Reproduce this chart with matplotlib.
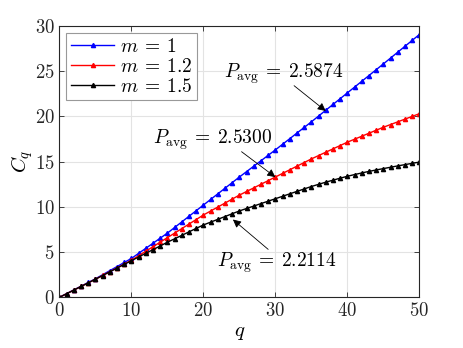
import matplotlib
matplotlib.use("Agg")
import matplotlib.pyplot as plt

plt.rcParams['font.family'] = 'serif'
plt.rcParams['font.serif'] = ['cmr10']
plt.rcParams['mathtext.fontset'] = 'cm'
plt.rcParams['axes.formatter.use_mathtext'] = True

q = list(range(51))
c_m1 = [0, 0.41, 0.82, 1.23, 1.64, 2.05, 2.5, 2.95, 3.4, 3.85, 4.3,
        4.86, 5.42, 5.98, 6.54, 7.1, 7.72, 8.34, 8.96, 9.58, 10.2,
        10.82, 11.44, 12.06, 12.68, 13.3, 13.9, 14.5, 15.1, 15.7, 16.3,
        16.92, 17.54, 18.16, 18.78, 19.4, 20.04, 20.68, 21.32, 21.96, 22.6,
        23.24, 23.88, 24.52, 25.16, 25.8, 26.45, 27.1, 27.75, 28.4, 29.05]
c_m12 = [0, 0.4, 0.8, 1.2, 1.6, 2.0, 2.42, 2.84, 3.26, 3.68, 4.1,
         4.6, 5.1, 5.6, 6.1, 6.6, 7.1, 7.6, 8.1, 8.6, 9.1,
         9.54, 9.98, 10.42, 10.86, 11.3, 11.7, 12.1, 12.5, 12.9, 13.3,
         13.7, 14.1, 14.5, 14.9, 15.3, 15.67, 16.04, 16.41, 16.78, 17.15,
         17.48, 17.81, 18.14, 18.47, 18.8, 19.1, 19.4, 19.7, 20.0, 20.3]
c_m15 = [0, 0.4, 0.8, 1.2, 1.6, 2.0, 2.41, 2.82, 3.23, 3.64, 4.05,
         4.46, 4.87, 5.27, 5.68, 6.09, 6.47, 6.85, 7.24, 7.62, 8.0,
         8.31, 8.62, 8.93, 9.24, 9.55, 9.82, 10.09, 10.36, 10.63, 10.9,
         11.17, 11.44, 11.71, 11.98, 12.25, 12.49, 12.73, 12.95, 13.17, 13.38,
         13.57, 13.75, 13.92, 14.08, 14.23, 14.38, 14.53, 14.67, 14.81, 14.95]

labels = [r'$m\:=\:1$', r'$m\:=\:1.2$', r'$m\:=\:1.5$']
colors = ['#0000ff', '#ff0000', '#000000']
series = [c_m1, c_m12, c_m15]

annot_texts = [r'$P_{\rm avg}\:=\:2.5874$', r'$P_{\rm avg}\:=\:2.5300$', r'$P_{\rm avg}\:=\:2.2114$']
annot_xy = [(37, 20.6), (30, 13.29), (24.1, 8.6)]
annot_text_xy = [(31.1, 24.7), (21.3, 17.4), (30.2, 3.8)]
annot_tail = [(32.6, 23.4), (25.3, 16.1), (29.0, 5.3)]

fig = plt.figure(figsize=(4.63, 3.48), dpi=100)
ax = fig.add_axes([0.1285, 0.1457, 0.7771, 0.7796])

for y, c, lab in zip(series, colors, labels):
    ax.plot(q, y, color=c, lw=1.0, marker='^', markersize=3.0, label=lab)

ax.set_xlim(0, 50)
ax.set_ylim(0, 30)
ax.set_xticks([0, 10, 20, 30, 40, 50])
ax.set_yticks([0, 5, 10, 15, 20, 25, 30])
ax.grid(True, color='#e3e3e3', lw=0.8)
ax.set_axisbelow(True)
edge = '#262626'
for s in ax.spines.values():
    s.set_color(edge)
    s.set_linewidth(0.8)
ax.tick_params(direction='in', top=True, right=True, length=3.5, width=0.6,
               colors=edge, labelsize=13.5, labelcolor='#262626')
ax.set_xlabel(r'$q$', fontsize=15, labelpad=3)
ax.set_ylabel(r'$C_q$', fontsize=15, labelpad=0)

leg = ax.legend(loc='upper left', fontsize=14, frameon=True, fancybox=False,
                edgecolor='#999999', framealpha=1, handlelength=2.2,
                borderaxespad=0.35, borderpad=0.25, labelspacing=0.1,
                handletextpad=0.3)
leg.get_frame().set_linewidth(0.8)

for t, xy, txy, tail in zip(annot_texts, annot_xy, annot_text_xy, annot_tail):
    ax.text(txy[0], txy[1], t, fontsize=14, ha='center', va='center')
    ax.annotate('', xy=xy, xytext=tail,
                arrowprops=dict(arrowstyle='-|>', color='k', lw=0.6,
                                mutation_scale=12, shrinkA=0, shrinkB=0))

fig.savefig('out.png', dpi=100)
